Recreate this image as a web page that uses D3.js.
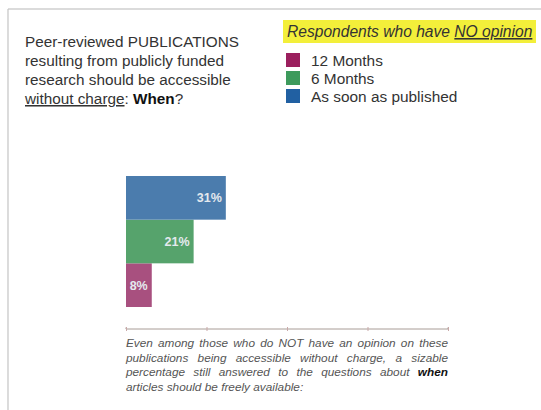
<!DOCTYPE html>
<html>
<head>
<meta charset="utf-8">
<script src="https://cdn.jsdelivr.net/npm/d3@7/dist/d3.min.js"></script>
<style>
  html, body { margin: 0; padding: 0; background: #fff; }
  svg { display: block; font-family: "Liberation Sans", Arial, sans-serif; }
</style>
</head>
<body>
<svg id="chart" width="541" height="410"></svg>
<script>
// Timing categories (bottom to top) and share of respondents
const categories = ["12 Months", "6 Months", "As soon as published"];
const values = [8, 21, 31];
const barColors = ["#a8507f", "#56a36c", "#4b7cad"];
const legendColors = ["#9b1f5e", "#3d9a5c", "#2160a2"];
const axisTicks = [0, 25, 50, 75, 100];

const titleLines = [
  [{t: "Peer-reviewed PUBLICATIONS"}],
  [{t: "resulting from publicly funded"}],
  [{t: "research should be accessible"}],
  [{t: "without charge", u: true}, {t: ": "}, {t: "When", b: true}, {t: "?"}]
];
const legendTitle = [{t: "Respondents who have "}, {t: "NO opinion", u: true}];
const note = [
  {t: "Even among those who do NOT have an opinion on these publications being accessible without charge, a sizable percentage still answered to the questions about"},
  {t: "when", b: true},
  {t: "articles should be freely available:"}
];

const svg = d3.select("#chart");

// slide frame
svg.append("line").attr("x1", 8).attr("x2", 541).attr("y1", 9).attr("y2", 9)
  .attr("stroke", "#b8b8b8").attr("stroke-width", 1.2);
svg.append("line").attr("x1", 8).attr("x2", 8).attr("y1", 9).attr("y2", 410)
  .attr("stroke", "#c4c4c4").attr("stroke-width", 1.2);

// title
const title = svg.append("text").attr("x", 25).attr("font-size", 15.3).attr("fill", "#333");
titleLines.forEach((line, i) => {
  line.forEach((seg, j) => {
    const ts = title.append("tspan").text(seg.t);
    if (j === 0) ts.attr("x", 25).attr("y", 47 + i * 19);
    if (seg.u) ts.attr("text-decoration", "underline");
    if (seg.b) ts.attr("font-weight", "bold").attr("fill", "#111");
  });
});

// legend heading with highlight
svg.append("rect").attr("x", 283).attr("y", 20).attr("width", 253).attr("height", 23)
  .attr("fill", "#f3ef3a");
const lt = svg.append("text").attr("x", 287).attr("y", 37).attr("font-size", 15.6)
  .attr("font-style", "italic").attr("fill", "#333");
legendTitle.forEach(seg => {
  const ts = lt.append("tspan").text(seg.t);
  if (seg.u) ts.attr("text-decoration", "underline");
});

// legend items
const legend = svg.append("g");
categories.forEach((c, i) => {
  const y = 53 + i * 18;
  legend.append("rect").attr("x", 286).attr("y", y).attr("width", 14).attr("height", 14)
    .attr("fill", legendColors[i]);
  legend.append("text").attr("x", 311).attr("y", y + 13).attr("font-size", 15.4)
    .attr("fill", "#333").text(c);
});

// bars
const x = d3.scaleLinear().domain([0, 100]).range([126, 448]);
const y = d3.scaleBand().domain(categories.slice().reverse()).range([176, 307]).padding(0);

const data = categories.map((c, i) => ({c, v: values[i], color: barColors[i]}));

svg.append("g").selectAll("rect").data(data).join("rect")
  .attr("x", x(0))
  .attr("y", d => y(d.c))
  .attr("width", d => x(d.v) - x(0))
  .attr("height", y.bandwidth())
  .attr("fill", d => d.color);

svg.append("g").selectAll("text").data(data).join("text")
  .attr("x", d => x(d.v) - 4)
  .attr("y", d => y(d.c) + y.bandwidth() / 2 + 4.5)
  .attr("text-anchor", "end")
  .attr("font-size", 12.5)
  .attr("font-weight", "bold")
  .attr("fill", "#e4e9ee")
  .text(d => d.v + "%");

// value axis
const axis = svg.append("g").attr("transform", "translate(0,329)")
  .call(d3.axisBottom(x).tickValues(axisTicks).tickSize(2).tickFormat(""));
axis.select(".domain").attr("stroke", "#a89c96").attr("d", "M126,-1.5V0H448V-1.5");
axis.selectAll(".tick line").attr("stroke", "#c9a9a9").attr("y1", -2).attr("y2", 2);

// footnote, justified between the axis ends
const noteG = svg.append("g").attr("font-size", 11.8).attr("font-style", "italic").attr("fill", "#555");
const words = [];
note.forEach(seg => seg.t.split(" ").forEach(w => words.push({w, b: !!seg.b})));
const left = 126, right = 448, width = right - left;
const measure = noteG.append("text").attr("visibility", "hidden");
words.forEach(d => {
  measure.text(d.w).attr("font-weight", d.b ? "bold" : "normal");
  d.len = measure.node().getComputedTextLength();
});
const spaceW = 3.3;
measure.remove();
const lines = [];
let cur = [], curW = 0;
words.forEach(d => {
  const add = cur.length ? spaceW + d.len : d.len;
  if (curW + add > width && cur.length) {
    lines.push(cur); cur = [d]; curW = d.len;
  } else { cur.push(d); curW += add; }
});
if (cur.length) lines.push(cur);
lines.forEach((line, li) => {
  const total = d3.sum(line, d => d.len);
  const last = li === lines.length - 1;
  const gap = last || line.length < 2 ? spaceW : (width - total) / (line.length - 1);
  let px = left;
  line.forEach(d => {
    noteG.append("text").attr("x", px).attr("y", 347 + li * 14.7)
      .attr("font-weight", d.b ? "bold" : "normal")
      .attr("fill", d.b ? "#111" : "#555")
      .text(d.w);
    px += d.len + gap;
  });
});
</script>
</body>
</html>
